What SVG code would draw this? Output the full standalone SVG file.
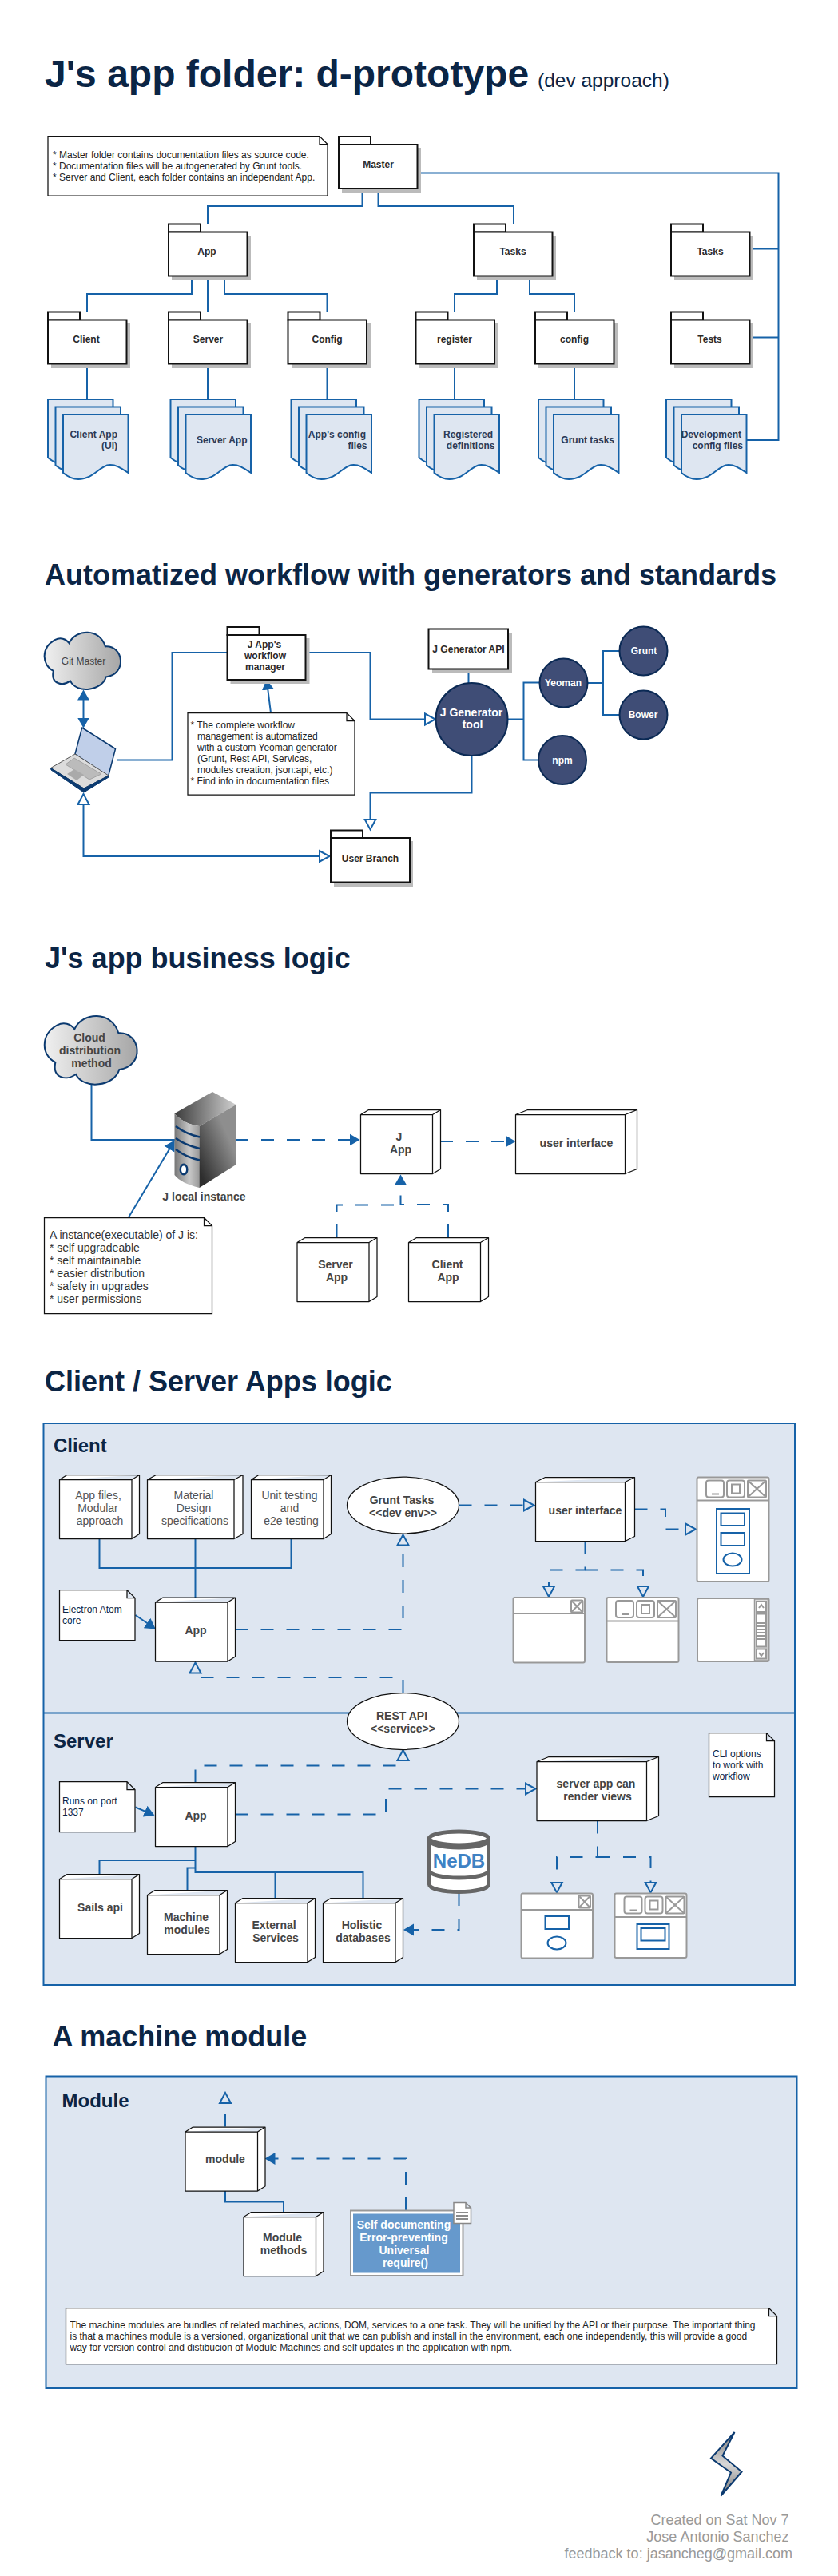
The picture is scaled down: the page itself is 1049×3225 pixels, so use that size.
<svg xmlns="http://www.w3.org/2000/svg" width="1049" height="3225" viewBox="0 0 1049 3225">
<style>
text{font-family:"Liberation Sans",Arial,sans-serif;font-size:12px;fill:#222}
.h1{font-size:48px;font-weight:700;fill:#0b2545}
.h1s{font-size:24.5px;fill:#0b2545}
.h2{font-size:36px;font-weight:700;fill:#0b2545}
.h3{font-size:24px;font-weight:700;fill:#0b2545}
.m{text-anchor:middle}
.e{text-anchor:end}
.b{font-weight:700;fill:#2a2a2a}
.d{font-weight:700;fill:#2c3a55}
.w{font-weight:700;fill:#fff}
.w14{font-weight:700;font-size:14px;fill:#fff}
.n14{font-weight:700;font-size:14px;fill:#444}
.r14{font-size:14px;fill:#555}
.nt14{font-size:14px;fill:#333}
.nv{fill:#0b2545}
.foot{font-size:18px;fill:#999;text-anchor:end}
.pkg{fill:#fff;stroke:#111;stroke-width:2}
.sh{fill:#bbb}
.box{fill:#fff;stroke:#111;stroke-width:1.25;stroke-linejoin:round}
.note{fill:#fff;stroke:#111;stroke-width:1.25;stroke-linejoin:miter}
.c{fill:none;stroke:#1662a8;stroke-width:2}
.dash{stroke-dasharray:16 16}
.o{marker-end:url(#open)}
.f{marker-end:url(#fill)}
.doc{fill:#dee6f1;stroke:#1662a8;stroke-width:2}
.circ{fill:#3f4d76;stroke:#0b2a55;stroke-width:2}
.cont{fill:#dee6f1;stroke:#1662a8;stroke-width:2}
.cloud{fill:url(#gc);stroke:#0b3a70;stroke-width:2}
.win{fill:#fff;stroke:#999;stroke-width:2}
.wl{fill:none;stroke:#999;stroke-width:2}
.wb{fill:none;stroke:#1662a8;stroke-width:2}
.ell{fill:#fff;stroke:#111;stroke-width:1.25}
</style>
<defs>
<linearGradient id="gc"><stop offset="0" stop-color="#f0f0f0"/><stop offset="1" stop-color="#a6a6a6"/></linearGradient>
<linearGradient id="gt"><stop offset="0" stop-color="#3c3c3c"/><stop offset="1" stop-color="#d0d0d0"/></linearGradient>
<linearGradient id="gf"><stop offset="0" stop-color="#777"/><stop offset=".6" stop-color="#c8c8c8"/><stop offset="1" stop-color="#999"/></linearGradient>
<linearGradient id="gr" x1="0" y1="1" x2="1" y2="0"><stop offset=".1" stop-color="#2e2e2e"/><stop offset=".7" stop-color="#8e8e8e"/></linearGradient>
<linearGradient id="gb" x1="0" y1="0" x2="0" y2="1"><stop offset="0" stop-color="#777"/><stop offset=".5" stop-color="#d8d8d8"/><stop offset="1" stop-color="#777"/></linearGradient>
<marker id="open" markerWidth="16" markerHeight="18" refX="1" refY="9" orient="auto-start-reverse" markerUnits="userSpaceOnUse"><path d="M1,2L14,9L1,16Z" fill="none" stroke="#1662a8" stroke-width="2"/></marker>
<marker id="fill" markerWidth="14" markerHeight="16" refX="0.5" refY="8" orient="auto-start-reverse" markerUnits="userSpaceOnUse"><path d="M0,0.5L13,8L0,15.5Z" fill="#1662a8"/></marker>
<path id="page" d="M0,0H81.5V73C71,66 66,63 59,63C46,63 39,81 19,81C13,81 6,78 0,73Z"/>
<g id="stack">
<use href="#page" class="doc" x="0" y="0"/>
<use href="#page" class="doc" x="9.5" y="9.5"/>
<use href="#page" class="doc" x="19" y="19"/>
</g>
<path id="cloudp" class="cloud" vector-effect="non-scaling-stroke" d="M88,195C35,170 30,90 95,55C120,42 145,50 160,70C190,5 300,0 325,85C410,80 425,210 328,222C310,285 195,300 165,240C130,265 75,255 88,195Z"/>
<g id="btn3">
<rect class="win" x="0" y="0" width="22" height="21" rx="3"/><path class="wl" d="M7,17h9"/>
<rect class="win" x="26" y="0" width="22" height="21" rx="3"/><rect class="win" x="32" y="5" width="10" height="11"/>
<rect class="win" x="52" y="0" width="23" height="21" rx="1"/><path class="wl" d="M52,0L75,21M75,0L52,21"/>
</g>
<g id="btn1"><rect class="win" x="0" y="0" width="14.5" height="15" rx="1"/><path class="wl" d="M1,1L13.5,14M13.5,1L1,14"/></g>
</defs>

<rect width="1049" height="3225" fill="#fff"/>

<text class="h1" x="56" y="109">J's app folder: d-prototype</text>
<text class="h1s" x="673" y="109">(dev approach)</text>
<text class="h2" x="56" y="732">Automatized workflow with generators and standards</text>
<text class="h2" x="56" y="1212">J's app business logic</text>
<text class="h2" x="56" y="1742">Client / Server Apps logic</text>
<text class="h2" x="65.5" y="2562">A machine module</text>

<g id="container-client-server">
<rect class="cont" x="54.5" y="1782" width="940.5" height="703"/>
<path class="c" d="M54.5,2144.5H995"/>
<text class="h3" x="67" y="1818">Client</text>
<text class="h3" x="67" y="2188">Server</text>
</g>
<g id="container-module">
<rect class="cont" x="57.5" y="2599.5" width="940" height="390.5"/>
<text class="h3" x="77.5" y="2638">Module</text>
</g>

<g id="connectors">
<path class="c" d="M453.5,236V258H260V280M473.5,236V258H643V280M522,216.5H974.5V551H934.5M938.5,311.5H974.5M938.5,422.5H974.5"/>
<path class="c" d="M240,346V368H109V390M260,346V390M281,346V368H409.5V390M622,346V368H569V390M663,346V368H719V390"/>
<path class="c" d="M109,456V500M260,456V500M409.5,456V500M569,456V500M719,456V500"/>
<path class="c" d="M146,951.5H215.5V817H284"/>
<path class="c o" d="M382.5,817H463.5V900.5H532"/>
<path class="c" d="M586.5,837.5V855M636,900.5H655.5M675.5,854.5H655.5V951.5H674M736,855H755M775,815H755V895H775"/>
<path class="c o" d="M590.5,946V992.5H463.5V1025.5"/>
<path class="c o" style="marker-start:url(#open)" d="M104.5,1007V1072H399.5"/>
<path class="c f" style="marker-start:url(#fill)" d="M104.5,876V899"/>
<path class="c f" d="M339,892.5L335.3,863"/>
<path class="c" d="M114.5,1358V1427H219"/>
<path class="c dash f" d="M295,1427H438"/>
<path class="c dash f" d="M551,1429H633"/>
<path class="c dash" d="M421.5,1549V1508.5H501.5"/>
<path class="c dash f" d="M561,1549V1508H501.5V1483"/>
<path class="c f" d="M160.5,1524.7L212.3,1438.3"/>
<path class="c" d="M124.5,1926.7V1963H364.5V1926.7M244.5,1926.7V2000"/>
<path class="c f" d="M169.5,2022L184.5,2032.3"/>
<path class="c dash o" d="M294.5,2040H504.5V1934.5"/>
<path class="c dash o" d="M504.5,2119V2100H244.5V2094.5"/>
<path class="c dash o" d="M574.5,1884.5H655.5"/>
<path class="c dash o" d="M794.5,1889.5H833V1914.5H858"/>
<path class="c dash o" d="M732.5,1929.5V1965.5H687V1986"/>
<path class="c dash o" d="M732.5,1965.5H805V1986"/>
<path class="c f" d="M169.5,2262.5L182,2267.9"/>
<path class="c dash o" d="M244.5,2231.5V2210.5H504.5V2204"/>
<path class="c dash o" d="M294.5,2271.5H483V2239.5H657.5"/>
<path class="c dash o" d="M748,2279.5V2325H697V2356.5"/>
<path class="c dash o" d="M748,2325H814.5V2356.5"/>
<path class="c dash f" d="M574.5,2370V2416H517.5"/>
<path class="c" d="M244.5,2311.5V2344H454.5V2376.5M344.5,2344V2376.5M244.5,2329H124.5V2346.5M244.5,2338.5H234.5V2366.5"/>
<path class="c dash o" d="M282,2662.5V2633"/>
<path class="c dash f" d="M508,2767V2702.5H344"/>
<path class="c" d="M282,2743V2756.5H355V2769"/>
</g>

<g id="note-master">
<path class="note" d="M60,170.5H400L410,180.5V245H60ZM400,170.5V180.5H410"/>
<text x="66" y="198">* Master folder contains documentation files as source code.</text>
<text x="66" y="212">* Documentation files will be autogenerated by Grunt tools.</text>
<text x="66" y="226">* Server and Client, each folder contains an independant App.</text>
</g>

<g id="pkg-master"><rect class="sh" x="428" y="185" width="99" height="56"/><rect class="pkg" x="424" y="171" width="40" height="10"/><rect class="pkg" x="424" y="181" width="98.5" height="55"/><text class="b m" x="473.5" y="209.5">Master</text></g>
<g id="pkg-app"><rect class="sh" x="215" y="295" width="99" height="56"/><rect class="pkg" x="211" y="280.5" width="40" height="10"/><rect class="pkg" x="211" y="290.5" width="98.5" height="55"/><text class="b m" x="259" y="319">App</text></g>
<g id="pkg-tasks"><rect class="sh" x="597" y="295" width="99" height="56"/><rect class="pkg" x="593" y="280.5" width="40" height="10"/><rect class="pkg" x="593" y="290.5" width="98.5" height="55"/><text class="b m" x="642" y="319">Tasks</text></g>
<g id="pkg-tasks2"><rect class="sh" x="844" y="295" width="99" height="56"/><rect class="pkg" x="840" y="280.5" width="40" height="10"/><rect class="pkg" x="840" y="290.5" width="98.5" height="55"/><text class="b m" x="889" y="319">Tasks</text></g>
<g id="pkg-client"><rect class="sh" x="64" y="405" width="99" height="56"/><rect class="pkg" x="60" y="390.5" width="40" height="10"/><rect class="pkg" x="60" y="400.5" width="98.5" height="55"/><text class="b m" x="108" y="429">Client</text></g>
<g id="pkg-server"><rect class="sh" x="215" y="405" width="99" height="56"/><rect class="pkg" x="211" y="390.5" width="40" height="10"/><rect class="pkg" x="211" y="400.5" width="98.5" height="55"/><text class="b m" x="260.5" y="429">Server</text></g>
<g id="pkg-config"><rect class="sh" x="365" y="405" width="99" height="56"/><rect class="pkg" x="360.5" y="390.5" width="40" height="10"/><rect class="pkg" x="360.5" y="400.5" width="98.5" height="55"/><text class="b m" x="409.5" y="429">Config</text></g>
<g id="pkg-register"><rect class="sh" x="524.5" y="405" width="99" height="56"/><rect class="pkg" x="520.5" y="390.5" width="40" height="10"/><rect class="pkg" x="520.5" y="400.5" width="98.5" height="55"/><text class="b m" x="569" y="429">register</text></g>
<g id="pkg-config2"><rect class="sh" x="674" y="405" width="99" height="56"/><rect class="pkg" x="670" y="390.5" width="40" height="10"/><rect class="pkg" x="670" y="400.5" width="98.5" height="55"/><text class="b m" x="719" y="429">config</text></g>
<g id="pkg-tests"><rect class="sh" x="844" y="405" width="99" height="56"/><rect class="pkg" x="840" y="390.5" width="40" height="10"/><rect class="pkg" x="840" y="400.5" width="98.5" height="55"/><text class="b m" x="888.5" y="429">Tests</text></g>

<g id="doc-client"><use href="#stack" x="60" y="500"/><text class="d e" x="147" y="548">Client App</text><text class="d e" x="147" y="562">(UI)</text></g>
<g id="doc-server"><use href="#stack" x="213.5" y="500"/><text class="d e" x="309.5" y="555">Server App</text></g>
<g id="doc-config"><use href="#stack" x="364.5" y="500"/><text class="d e" x="458" y="548">App's config</text><text class="d e" x="459.5" y="562">files</text></g>
<g id="doc-register"><use href="#stack" x="524.5" y="500"/><text class="d e" x="617" y="548">Registered</text><text class="d e" x="619.5" y="562">definitions</text></g>
<g id="doc-grunt"><use href="#stack" x="674" y="500"/><text class="d e" x="769" y="555">Grunt tasks</text></g>
<g id="doc-dev"><use href="#stack" x="834" y="500"/><text class="d e" x="928" y="548">Development</text><text class="d e" x="930" y="562">config files</text></g>

<g id="cloud-git"><use href="#cloudp" transform="translate(42.65,785.8) scale(.2745,.2776)"/><text class="m" x="104.5" y="832" style="fill:#444">Git Master</text></g>
<g id="laptop">
<path d="M102.7,911L144.5,937.5L135.5,972L94,944Z" fill="#c0cfe9" stroke="#0b3a70" stroke-width="1.5" stroke-linejoin="round"/>
<path d="M94,944L63.5,961.5L105,987L136,971Z" fill="#dcdcdc" stroke="#555" stroke-width="1"/>
<path d="M63.5,961.5L64,964L105,992L136,973L136,971L105,987Z" fill="#0b3a70" stroke="#0b3a70" stroke-width="1"/>
<path d="M93,949L82,957L112,976L127,969Z" fill="#bbb" stroke="#888" stroke-width=".6"/>
<path d="M84,969L93,963L105,970L96,977Z" fill="#aaa"/>
</g>
<g id="pkg-workflow"><rect class="sh" x="288.5" y="799" width="99" height="57"/><rect class="pkg" x="284.5" y="785" width="40" height="10"/><rect class="pkg" x="284.5" y="795" width="98" height="56"/><text class="b m" x="331" y="811">J App's</text><text class="b m" x="332" y="825">workflow</text><text class="b m" x="332" y="839">manager</text></g>
<g id="note-workflow">
<path class="note" d="M235,892.5H434L444,902.5V995H235ZM434,892.5V902.5H444"/>
<text x="238.5" y="912">* The complete workflow</text>
<text x="247" y="926">management is automatized</text>
<text x="247" y="940">with a custom Yeoman generator</text>
<text x="247" y="954">(Grunt, Rest API, Services,</text>
<text x="247" y="968">modules creation, json:api, etc.)</text>
<text x="238.5" y="982">* Find info in documentation files</text>
</g>
<g id="node-api"><rect class="sh" x="541" y="792" width="100" height="50"/><rect class="pkg" x="536.5" y="787.5" width="99.5" height="50"/><text class="b m" x="586.5" y="817">J Generator API</text></g>
<g id="node-tool"><ellipse class="circ" cx="590.5" cy="900.5" rx="45" ry="45.5"/><text class="w14 m" x="590" y="897">J Generator</text><text class="w14 m" x="591.5" y="911.5">tool</text></g>
<g id="node-yeoman"><ellipse class="circ" cx="705.5" cy="855" rx="30" ry="30.5"/><text class="w m" x="705" y="859">Yeoman</text></g>
<g id="node-npm"><ellipse class="circ" cx="704" cy="951.5" rx="30" ry="30.5"/><text class="w m" x="704" y="956">npm</text></g>
<g id="node-grunt"><ellipse class="circ" cx="805.5" cy="815" rx="30" ry="30.5"/><text class="w m" x="806" y="819">Grunt</text></g>
<g id="node-bower"><ellipse class="circ" cx="805.5" cy="895" rx="30" ry="30.5"/><text class="w m" x="805" y="899">Bower</text></g>
<g id="pkg-branch"><rect class="sh" x="418" y="1053" width="99" height="57"/><rect class="pkg" x="414" y="1039.5" width="40" height="10"/><rect class="pkg" x="414" y="1049" width="99" height="55.5"/><text class="b m" x="463.5" y="1079">User Branch</text></g>

<g id="cloud-dist"><use href="#cloudp" transform="translate(40,1265) scale(.3333)"/><text class="n14 m" x="112" y="1304">Cloud</text><text class="n14 m" x="112.5" y="1320">distribution</text><text class="n14 m" x="114.5" y="1336">method</text></g>
<g id="server-icon">
<path d="M266,1367L295.5,1383L249.5,1410C236,1408 225,1402 218.5,1394Z" fill="url(#gt)"/>
<path d="M218.5,1394C225,1402 236,1408 249.5,1410V1487C234,1483 224,1478 218.5,1471Z" fill="url(#gf)"/>
<path d="M249.5,1410L295.5,1383V1458L249.5,1487Z" fill="url(#gr)"/>
<path d="M220,1410C228,1416 238,1421 250,1423.5M220,1425C228,1431 238,1435 250,1438M220,1439C228,1445 238,1450 250,1452.5" fill="none" stroke="#0b3a70" stroke-width="2.5"/>
<ellipse cx="230" cy="1464" rx="5.5" ry="7.5" fill="#0b3a70"/><ellipse cx="230" cy="1464" rx="3" ry="4.5" fill="#fff"/>
<text class="n14 m" x="255.5" y="1502.5">J local instance</text>
</g>
<g id="note-instance">
<path class="note" d="M55.5,1524.5H255.5L265.5,1534.5V1644.5H55.5ZM255.5,1524.5V1534.5H265.5"/>
<text class="nt14" x="62" y="1551">A instance(executable) of J is:</text>
<text class="nt14" x="62" y="1567">* self upgradeable</text>
<text class="nt14" x="62" y="1583">* self maintainable</text>
<text class="nt14" x="62" y="1599">* easier distribution</text>
<text class="nt14" x="62" y="1615">* safety in upgrades</text>
<text class="nt14" x="62" y="1631">* user permissions</text>
</g>
<g id="node-japp"><path class="box" d="M451.5,1395.5h90v74h-90zl10,-6h90v74l-10,6v-74l10,-6"/><text class="n14 m" x="499.5" y="1427.5">J</text><text class="n14 m" x="501.5" y="1443.5">App</text></g>
<g id="node-ui"><path class="box" d="M645.5,1395.5h137v74h-137zl15,-6h137v74l-15,6v-74l15,-6"/><text class="n14 m" x="721.5" y="1435.5">user interface</text></g>
<g id="node-serverapp"><path class="box" d="M372,1555.5h90v74h-90zl10,-6h90v74l-10,6v-74l10,-6"/><text class="n14 m" x="420" y="1587.5">Server</text><text class="n14 m" x="421.5" y="1603.5">App</text></g>
<g id="node-clientapp"><path class="box" d="M511.5,1555.5h90v74h-90zl10,-6h90v74l-10,6v-74l10,-6"/><text class="n14 m" x="560" y="1587.5">Client</text><text class="n14 m" x="561" y="1603.5">App</text></g>

<g id="node-appfiles"><path class="box" d="M74.5,1852.5h90.5v74h-90.5zl9.5,-6h90.5v74l-9.5,6v-74l9.5,-6"/><text class="r14 m" x="123" y="1877">App files,</text><text class="r14 m" x="122.5" y="1893">Modular</text><text class="r14 m" x="125" y="1909">approach</text></g>
<g id="node-material"><path class="box" d="M184.5,1852.5h108.5v74h-108.5zl11,-6h108.5v74l-11,6v-74l11,-6"/><text class="r14 m" x="242.5" y="1877">Material</text><text class="r14 m" x="242.5" y="1893">Design</text><text class="r14 m" x="244" y="1909">specifications</text></g>
<g id="node-unit"><path class="box" d="M314.5,1852.5h90.5v74h-90.5zl9.5,-6h90.5v74l-9.5,6v-74l9.5,-6"/><text class="r14 m" x="362.5" y="1877">Unit testing</text><text class="r14 m" x="362.5" y="1893">and</text><text class="r14 m" x="364.5" y="1909">e2e testing</text></g>
<g id="node-app-client"><path class="box" d="M194.5,2006h90.5v74h-90.5zl9.5,-6h90.5v74l-9.5,6v-74l9.5,-6"/><text class="n14 m" x="245" y="2046">App</text></g>
<g id="note-electron"><path class="note" d="M74.5,1990.5H159L169,2000.5V2053.5H74.5ZM159,1990.5V2000.5H169"/><text class="nv" x="78" y="2019">Electron Atom</text><text class="nv" x="78" y="2033">core</text></g>
<g id="node-grunt-tasks"><ellipse class="ell" cx="504.5" cy="1884.5" rx="70" ry="35.5"/><text class="n14 m" x="503" y="1882.5">Grunt Tasks</text><text class="n14 m" x="504.5" y="1898.5">&lt;&lt;dev env&gt;&gt;</text></g>
<g id="node-rest"><ellipse class="ell" cx="504.5" cy="2155" rx="70" ry="35.5"/><text class="n14 m" x="503" y="2152.5">REST API</text><text class="n14 m" x="504.5" y="2168.5">&lt;&lt;service&gt;&gt;</text></g>
<g id="node-ui-client"><path class="box" d="M670.5,1855.5h112v74h-112zl12,-6h112v74l-12,6v-74l12,-6"/><text class="n14 m" x="732.5" y="1896">user interface</text></g>
<g id="win-1">
<rect class="win" x="872.5" y="1849.5" width="90" height="130.5" rx="2"/><path class="wl" d="M872.5,1878.5H962.5"/><use href="#btn3" x="884" y="1853.5"/>
<rect class="wb" x="897" y="1889" width="41" height="81"/><rect class="wb" x="902.5" y="1894.5" width="29.5" height="15.5"/><rect class="wb" x="902.5" y="1919" width="29.5" height="16"/><ellipse class="wb" cx="917" cy="1952.5" rx="11.5" ry="8"/>
</g>
<g id="win-2"><rect class="win" x="642.5" y="2000" width="89.5" height="81.5" rx="2"/><path class="wl" d="M642.5,2020H732"/><use href="#btn1" x="715" y="2003.5"/></g>
<g id="win-3"><rect class="win" x="759.5" y="2000" width="90" height="81" rx="2"/><path class="wl" d="M759.5,2029.5H849.5"/><use href="#btn3" x="771" y="2004"/></g>
<g id="win-4">
<rect class="win" x="873" y="2001" width="89.5" height="79" rx="2"/>
<rect x="944.5" y="2002" width="17" height="77" fill="#ddd" stroke="#999" stroke-width="1.5"/>
<rect class="win" x="947" y="2005" width="12" height="13"/><path class="wl" d="M950,2013l3,-4l3,4"/>
<rect class="win" x="947" y="2020.5" width="12" height="41"/>
<path class="wl" d="M948,2032h10M948,2036h10M948,2040h10M948,2044h10M948,2048h10M948,2052h10"/>
<rect class="win" x="947" y="2064.5" width="12" height="12"/><path class="wl" d="M950,2069l3,4l3,-4"/>
</g>

<g id="note-port"><path class="note" d="M74.5,2230.5H159L169,2240.5V2293.5H74.5ZM159,2230.5V2240.5H169"/><text class="nv" x="78" y="2259">Runs on port</text><text class="nv" x="78" y="2273">1337</text></g>
<g id="node-app-server"><path class="box" d="M194.5,2237.5h90.5v74h-90.5zl9.5,-6h90.5v74l-9.5,6v-74l9.5,-6"/><text class="n14 m" x="245" y="2278">App</text></g>
<g id="node-render"><path class="box" d="M672,2205.5h137.5v74h-137.5zl15,-6h137.5v74l-15,6v-74l15,-6"/><text class="n14 m" x="746" y="2238">server app can</text><text class="n14 m" x="748" y="2253.5">render views</text></g>
<g id="note-cli"><path class="note" d="M887.5,2169.5H959.5L969.5,2179.5V2249.5H887.5ZM959.5,2169.5V2179.5H969.5"/><text class="nv" x="892" y="2199.5">CLI options</text><text class="nv" x="892" y="2213.5">to work with</text><text class="nv" x="892" y="2227.5">workflow</text></g>
<g id="node-sails"><path class="box" d="M74.5,2352.5h90.5v74h-90.5zl9.5,-6h90.5v74l-9.5,6v-74l9.5,-6"/><text class="n14 m" x="125.5" y="2392.5">Sails api</text></g>
<g id="node-machine"><path class="box" d="M184.5,2372.5h90.5v74h-90.5zl9.5,-6h90.5v74l-9.5,6v-74l9.5,-6"/><text class="n14 m" x="233" y="2404.5">Machine</text><text class="n14 m" x="234" y="2420.5">modules</text></g>
<g id="node-external"><path class="box" d="M294.5,2382.5h90.5v74h-90.5zl9.5,-6h90.5v74l-9.5,6v-74l9.5,-6"/><text class="n14 m" x="343" y="2414.5">External</text><text class="n14 m" x="345" y="2430.5">Services</text></g>
<g id="node-holistic"><path class="box" d="M404.5,2382.5h90.5v74h-90.5zl9.5,-6h90.5v74l-9.5,6v-74l9.5,-6"/><text class="n14 m" x="453" y="2414.5">Holistic</text><text class="n14 m" x="454.5" y="2430.5">databases</text></g>
<g id="node-nedb">
<path d="M537.5,2302V2359.5A37,9 0 0 0 611.5,2359.5V2302Z" fill="#fff" stroke="#666" stroke-width="5"/>
<ellipse cx="574.5" cy="2301.5" rx="37" ry="8.5" fill="#fff" stroke="#666" stroke-width="5"/>
<path d="M537.5,2304A37,9 0 0 0 611.5,2304M537.5,2342A37,9 0 0 0 611.5,2342" fill="none" stroke="#666" stroke-width="5"/>
<text x="574.5" y="2337.5" class="m" style="font-size:24px;font-weight:700;fill:#3f82c4">NeDB</text>
</g>
<g id="win-5">
<rect class="win" x="652.5" y="2370.5" width="89.5" height="81" rx="2"/><path class="wl" d="M652.5,2391H742"/><use href="#btn1" x="724.5" y="2373.5"/>
<rect class="wb" x="682.5" y="2399" width="29.5" height="16"/><ellipse class="wb" cx="697" cy="2432.5" rx="11.5" ry="8"/>
</g>
<g id="win-6">
<rect class="win" x="769.5" y="2370.5" width="90" height="80.5" rx="2"/><path class="wl" d="M769.5,2400H859.5"/><use href="#btn3" x="781.5" y="2374.5"/>
<rect class="wb" x="797.5" y="2409" width="40" height="31"/><rect class="wb" x="802.5" y="2414" width="30" height="15.5"/>
</g>

<g id="node-module"><path class="box" d="M232,2669h90.5v74h-90.5zl9.5,-6h90.5v74l-9.5,6v-74l9.5,-6"/><text class="n14 m" x="282" y="2708">module</text></g>
<g id="node-methods"><path class="box" d="M305,2775.5h90.5v74h-90.5zl9.5,-6h90.5v74l-9.5,6v-74l9.5,-6"/><text class="n14 m" x="353.5" y="2806">Module</text><text class="n14 m" x="355" y="2822">methods</text></g>
<g id="node-selfdoc">
<rect x="439" y="2767.5" width="140.5" height="81.5" fill="#fff" stroke="#999" stroke-width="2"/>
<rect x="442" y="2771.5" width="134" height="74" fill="#6699cc"/>
<path d="M568,2757.5H583L589.5,2764V2783.5H568ZM583,2757.5V2764H589.5" fill="#fff" stroke="#888" stroke-width="1.5"/>
<path d="M571,2770H586M571,2774H586M571,2778H586" stroke="#666" stroke-width="1.5"/>
<text class="w14 m" x="505.5" y="2790">Self documenting</text><text class="w14 m" x="505.5" y="2806">Error-preventing</text><text class="w14 m" x="506" y="2822">Universal</text><text class="w14 m" x="507.5" y="2838">require()</text>
</g>
<g id="note-machine">
<path class="note" d="M82.5,2889.5H962.5L972.5,2899.5V2959.5H82.5ZM962.5,2889.5V2899.5H972.5"/>
<text x="87.5" y="2914.5">The machine modules are bundles of related machines, actions, DOM, services to a one task. They will be unified by the API or their purpose. The important thing</text>
<text x="87.5" y="2928.5">is that a machines module is a versioned, organizational unit that we can publish and install in the environment, each one independently, this will provide a good</text>
<text x="87.5" y="2942.5">way for version control and distibucion of Module Machines and self updates in the application with npm.</text>
</g>

<g id="logo"><path d="M919.5,3045L890,3077.5L915,3095.5L902.5,3124.5L928.5,3094.5L904.5,3074.5Z" fill="url(#gb)" stroke="#0b3a70" stroke-width="2"/></g>
<g id="footer">
<text class="foot" x="987.5" y="3161">Created on Sat Nov 7</text>
<text class="foot" x="987.5" y="3182">Jose Antonio Sanchez</text>
<text class="foot" x="992" y="3203">feedback to: jasancheg@gmail.com</text>
</g>
</svg>
